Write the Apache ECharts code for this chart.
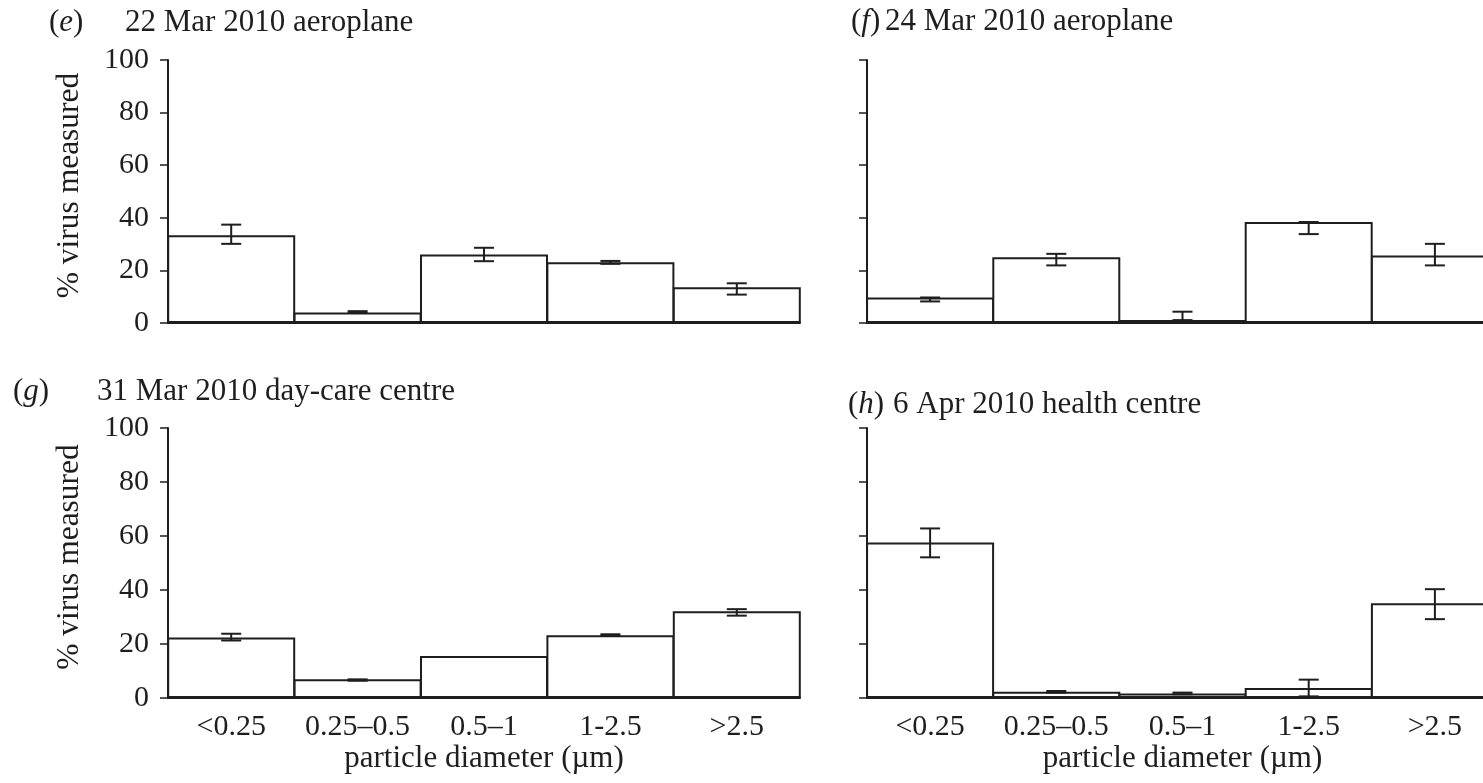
<!DOCTYPE html>
<html>
<head>
<meta charset="utf-8">
<script src="https://cdn.jsdelivr.net/npm/echarts@6/dist/echarts.min.js"></script>
<style>
html,body{margin:0;padding:0;background:#fff;overflow:hidden;width:1483px;height:783px;}
#chart{width:1510px;height:783px;}
</style>
</head>
<body>
<div id="chart"></div>
<script>
// ---- data ----
const categories = ['<0.25', '0.25\u20130.5', '0.5\u20131', '1-2.5', '>2.5'];
const yMin = 0, yMax = 100, yStep = 20;
const yAxisName = '% virus measured';
const xAxisName = 'particle diameter (\u00b5m)';

const eLetter = 'e', eTitle = '22 Mar 2010 aeroplane';
const eValues  = [33.4, 4.0, 26.0, 23.1, 13.6];
const eErrLow  = [30.1, 3.8, 23.5, 22.5, 10.8];
const eErrHigh = [37.4, 4.5, 28.6, 23.6, 15.1];

const fLetter = 'f', fTitle = '24 Mar 2010 aeroplane';
const fValues  = [9.7, 25.0, 1.1, 38.4, 25.7];
const fErrLow  = [8.2, 21.9, 1.1, 33.8, 21.9];
const fErrHigh = [9.7, 26.3, 4.3, 38.4, 30.1];

const gLetter = 'g', gTitle = '31 Mar 2010 day-care centre';
const gValues  = [22.4, 6.9, 15.6, 23.2, 32.1];
const gErrLow  = [21.3, 6.4, null, 23.0, 30.5];
const gErrHigh = [23.8, 6.9, null, 23.6, 32.9];

const hLetter = 'h', hTitle = '6 Apr 2010 health centre';
const hValues  = [57.6, 2.3, 1.7, 3.7, 35.1];
const hErrLow  = [52.1, 2.0, 1.4, 0.6, 29.2];
const hErrHigh = [62.8, 2.6, 2.0, 6.8, 40.3];

// ---- layout / style ----
const FONT = '"Liberation Serif", "Times New Roman", serif';
const INK = '#1e1e1e';
const panels = [
  {letter:eLetter, title:eTitle, v:eValues, lo:eErrLow, hi:eErrHigh,
   grid:{left:168, top:60, width:632, height:263}, showY:true, showX:false,
   letterX:49, titleX:125, titleY:23},
  {letter:fLetter, title:fTitle, v:fValues, lo:fErrLow, hi:fErrHigh,
   grid:{left:867, top:60, width:631, height:263}, showY:false, showX:false,
   letterX:851, titleX:885, titleY:22},
  {letter:gLetter, title:gTitle, v:gValues, lo:gErrLow, hi:gErrHigh,
   grid:{left:168, top:428, width:632, height:270}, showY:true, showX:true,
   letterX:13, titleX:97, titleY:392},
  {letter:hLetter, title:hTitle, v:hValues, lo:hErrLow, hi:hErrHigh,
   grid:{left:867, top:428, width:631, height:270}, showY:false, showX:true,
   letterX:848, titleX:893, titleY:405}
];

const grids = [], xAxes = [], yAxes = [], series = [], graphics = [];
panels.forEach((p, i) => {
  grids.push(Object.assign({containLabel:false}, p.grid));
  xAxes.push({
    type:'category', gridIndex:i, data:categories,
    axisLine:{show:true, lineStyle:{color:INK, width:2}},
    axisTick:{show:false},
    axisLabel:{show:p.showX, color:INK, fontFamily:FONT, fontSize:30, margin:14, interval:0},
    name:p.showX ? xAxisName : '', nameLocation:'middle', nameGap:44,
    nameTextStyle:{color:INK, fontFamily:FONT, fontSize:31},
    splitLine:{show:false}
  });
  yAxes.push({
    type:'value', gridIndex:i, min:yMin, max:yMax, interval:yStep,
    axisLine:{show:true, lineStyle:{color:INK, width:2}},
    axisTick:{show:true, length:8, lineStyle:{color:INK, width:1.5}},
    axisLabel:{show:p.showY, color:INK, fontFamily:FONT, fontSize:30, margin:19},
    name:p.showY ? yAxisName : '', nameLocation:'middle', nameGap:82,
    nameTextStyle:{color:INK, fontFamily:FONT, fontSize:31.5, padding:[0, 0, 0, 12]},
    splitLine:{show:false}
  });
  series.push({
    type:'bar', xAxisIndex:i, yAxisIndex:i, data:p.v,
    barWidth:Math.round(p.grid.width / categories.length) + 2, barGap:'-100%', silent:true,
    itemStyle:{color:'#fff', borderColor:INK, borderWidth:2}
  });
  const errData = p.v.map((_, k) => [k, p.lo[k], p.hi[k]]).filter(d => d[1] != null);
  series.push({
    type:'custom', xAxisIndex:i, yAxisIndex:i, data:errData, silent:true, z:5,
    renderItem:function(params, api){
      const k = api.value(0);
      const a = api.coord([k, api.value(1)]);
      const b = api.coord([k, api.value(2)]);
      const hw = 10;
      const st = {stroke:INK, lineWidth:2};
      return {type:'group', children:[
        {type:'line', shape:{x1:a[0], y1:a[1], x2:b[0], y2:b[1]}, style:st},
        {type:'line', shape:{x1:a[0]-hw, y1:a[1], x2:a[0]+hw, y2:a[1]}, style:st},
        {type:'line', shape:{x1:b[0]-hw, y1:b[1], x2:b[0]+hw, y2:b[1]}, style:st}
      ]};
    }
  });
  graphics.push({
    type:'text', x:p.letterX, y:p.titleY,
    style:{text:'{p|(}{i|' + p.letter + '}{p|)}', verticalAlign:'middle',
      rich:{p:{fontFamily:FONT, fontSize:31, fill:INK, color:INK},
            i:{fontFamily:FONT, fontSize:31, fontStyle:'italic', fill:INK, color:INK}}}
  });
  graphics.push({
    type:'text', x:p.titleX, y:p.titleY,
    style:{text:p.title, font:'31px ' + FONT, fill:INK, verticalAlign:'middle'}
  });
});

const chart = echarts.init(document.getElementById('chart'), null, {renderer:'canvas'});
chart.setOption({
  backgroundColor:'#fff',
  animation:false,
  grid:grids, xAxis:xAxes, yAxis:yAxes, series:series, graphic:graphics
});
</script>
</body>
</html>
